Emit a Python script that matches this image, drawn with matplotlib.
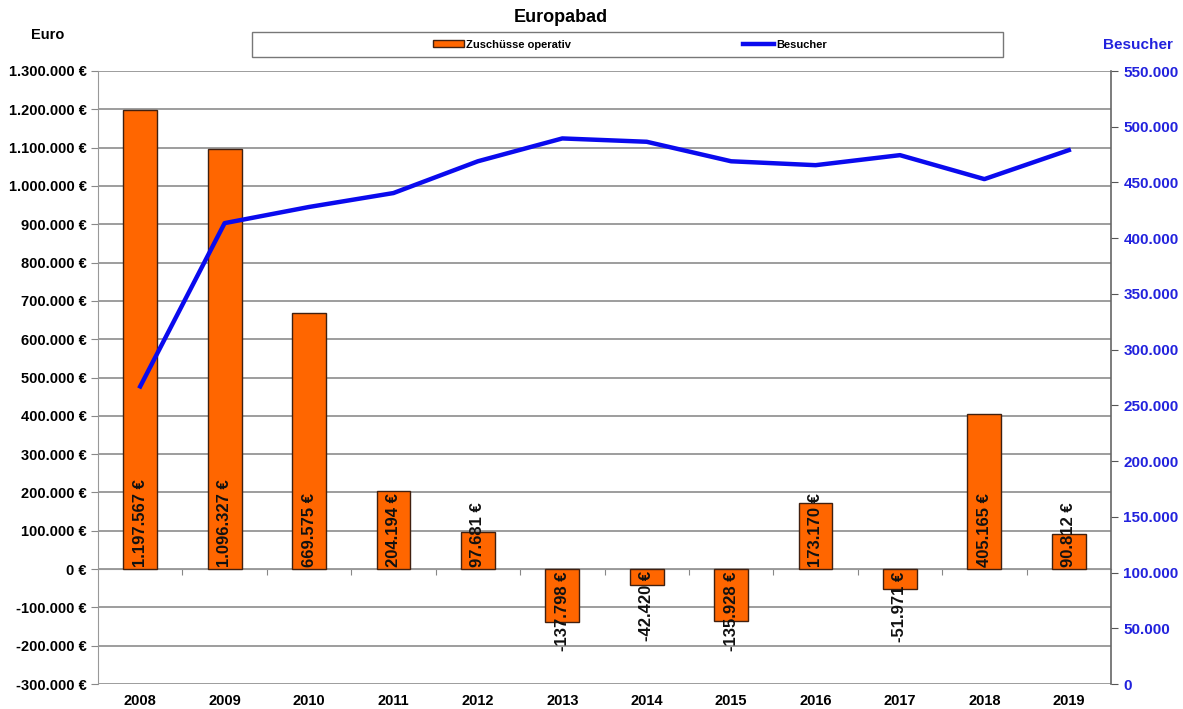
import matplotlib.pyplot as plt
import matplotlib.ticker as mticker
from matplotlib.patches import Rectangle

plt.rcParams['font.family'] = ['Liberation Sans', 'DejaVu Sans']
plt.rcParams['font.weight'] = 'bold'

years = ["2008", "2009", "2010", "2011", "2012", "2013",
         "2014", "2015", "2016", "2017", "2018", "2019"]
zuschuesse = [1197567, 1096327, 669575, 204194, 97681, -137798,
              -42420, -135928, 173170, -51971, 405165, 90812]
besucher = [267000, 413500, 428000, 440500, 469000, 489500,
            486500, 469000, 465500, 474500, 453000, 479000]


def de(v):
    return f"{v:,.0f}".replace(",", ".")


fig = plt.figure(figsize=(11.83, 7.09), dpi=100)
ax = fig.add_axes([98 / 1183, 25 / 709, 1013 / 1183, 613 / 709])
ax2 = ax.twinx()

x = list(range(len(years)))
ax.bar(x, zuschuesse, width=0.4, color="#ff6600", edgecolor="#402010",
       linewidth=1.0, zorder=3, label="Zuschüsse operativ")
for xi, v in zip(x, zuschuesse):
    if v >= 0:
        ax.text(xi, 6000, de(v) + " €", rotation=90, ha="center", va="bottom",
                fontsize=12, color="#111111", zorder=5)
    else:
        ax.text(xi, -6000, de(v) + " €", rotation=90, ha="center", va="top",
                fontsize=12, color="#111111", zorder=5)

ax.set_xlim(-0.5, len(years) - 0.5)
ax.set_ylim(-300000, 1300000)
ax.set_yticks(range(-300000, 1300001, 100000))
ax.yaxis.set_major_formatter(mticker.FuncFormatter(lambda v, p: de(v) + " €"))
ax.grid(axis="y", color="#8c8c8c", linewidth=1.2, zorder=0)
ax.set_axisbelow(True)
ax.tick_params(axis="y", labelsize=10.5, length=5, color="#888888", pad=3)

# x axis on the zero line, ticks between categories
ax.spines["bottom"].set_position(("data", 0))
ax.spines["bottom"].set_color("#999999")
ax.spines["top"].set_visible(False)
ax.spines["right"].set_visible(False)
ax.spines["left"].set_color("#999999")
ax.set_xticks([i + 0.5 for i in x[:-1]])
ax.set_xticklabels([])
ax.tick_params(axis="x", length=4, color="#888888", direction="out")
for xi, yr in zip(x, years):
    ax.text(xi, -0.027, yr, transform=ax.get_xaxis_transform(), ha="center",
            va="center", fontsize=10.5)

ax2.plot(x, besucher, color="#0a0aee", linewidth=3.2, zorder=4, label="Besucher")
ax2.set_ylim(0, 550000)
ax2.set_yticks(range(0, 550001, 50000))
ax2.yaxis.set_major_formatter(mticker.FuncFormatter(lambda v, p: de(v)))
ax2.tick_params(axis="y", labelsize=11, colors="#2222dd", length=5, pad=4)
ax2.tick_params(axis="y", color="#555555")
for s in ["top", "left", "bottom"]:
    ax2.spines[s].set_visible(False)
ax2.spines["right"].set_color("#666666")
ax2.spines["right"].set_linewidth(1.2)

fig.text(561 / 1183, 1 - 18 / 709, "Europabad", ha="center", va="center", fontsize=13)
fig.text(48 / 1183, 1 - 35 / 709, "Euro", ha="center", va="center", fontsize=10.5)
fig.text(1138 / 1183, 1 - 45 / 709, "Besucher", ha="center", va="center",
         fontsize=11, color="#2222dd")

# legend frame
fig.patches.append(Rectangle((252 / 1183, 1 - 57 / 709), 751 / 1183, 25 / 709,
                             transform=fig.transFigure, facecolor="white",
                             edgecolor="#777777", linewidth=1.0))
h1, l1 = ax.get_legend_handles_labels()
h2, l2 = ax2.get_legend_handles_labels()
leg = fig.legend(h1 + h2, l1 + l2, loc="center",
                 bbox_to_anchor=(630 / 1183, 1 - 44.5 / 709),
                 ncol=2, fontsize=8, frameon=False,
                 handlelength=2.8, handleheight=0.5, borderpad=0.2,
                 columnspacing=15.5, handletextpad=0.15)

fig.savefig("out.png", dpi=100)
